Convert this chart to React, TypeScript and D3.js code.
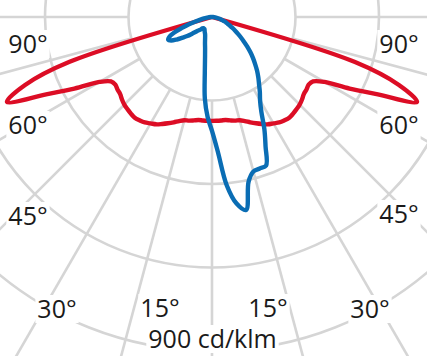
import * as d3 from 'd3';
import React, { useEffect, useRef } from 'react';

// angles measured from nadir, in degrees
const angles = [
  0, 2.5, 5, 7.5, 10, 12.5, 15, 17.5, 20, 22.5, 25, 27.5, 30, 32.5, 35, 37.5, 40, 42.5, 45,
  47.5, 50, 52.5, 55, 57.5, 60, 62.5, 65, 67.5, 70, 72.5, 75, 77.5, 80, 82.5, 85, 87.5, 90,
];

// C90 / C270 plane (symmetric), cd/klm
const redPlane = [
  280, 280, 280, 280, 283, 286, 288, 294, 302, 310, 318, 326, 331, 337, 340, 342, 340, 337, 334,
  329, 323, 321, 318, 323, 350, 418, 493, 598, 536, 404, 0, 0, 0, 0, 0, 0, 0,
];

// C0 plane (right half), cd/klm
const blueC0 = [
  307, 364, 455, 507, 528, 455, 431, 428, 426, 377, 334, 288, 259, 240, 221, 205, 189, 172, 156,
  140, 124, 108, 94, 81, 70, 59, 51, 43, 38, 30, 24, 19, 13, 8, 5, 3, 0,
];

// C180 plane (left half), cd/klm
const blueC180 = [
  307, 270, 221, 148, 108, 86, 73, 62, 54, 49, 46, 43, 40, 38, 38, 38, 40, 46, 51,
  59, 70, 84, 97, 113, 127, 133, 127, 111, 86, 65, 46, 32, 22, 13, 8, 3, 0,
];

const gridValues = [225, 450, 675, 900];
const spokeAngles = [-90, -75, -60, -45, -30, -15, 0, 15, 30, 45, 60, 75, 90];

const angleLabels = ['90°', '60°', '45°', '30°', '15°'];
const unitLabel = '900 cd/klm';

const W = 427;
const H = 356;

const App: React.FC = () => {
  const ref = useRef<SVGSVGElement | null>(null);

  useEffect(() => {
    if (!ref.current) return;
    const svg = d3.select(ref.current);
    svg.selectAll('*').remove();

    const cx = 212;
    const cy = 17;
    const r = d3.scaleLinear().domain([0, 900]).range([0, 334]);
    const toRad = (deg: number) => Math.PI - (deg * Math.PI) / 180;

    const g = svg.append('g').attr('transform', `translate(${cx},${cy})`);
    const grid = g.append('g').attr('fill', 'none').attr('stroke', '#d5d5d5').attr('stroke-width', 2.6);

    gridValues.forEach((v) => {
      grid.append('circle').attr('r', r(v));
    });

    spokeAngles.forEach((a) => {
      const t = toRad(a);
      const r0 = r(gridValues[0]);
      const r1 = 700;
      grid
        .append('line')
        .attr('x1', r0 * Math.sin(t))
        .attr('y1', -r0 * Math.cos(t))
        .attr('x2', r1 * Math.sin(t))
        .attr('y2', -r1 * Math.cos(t));
    });

    const line = d3
      .lineRadial<[number, number]>()
      .angle((d) => toRad(d[0]))
      .radius((d) => r(d[1]))
      .curve(d3.curveCatmullRom.alpha(0.5));

    const full = (left: number[], right: number[]): [number, number][] => {
      const pts: [number, number][] = [];
      for (let i = angles.length - 1; i > 0; i--) pts.push([-angles[i], left[i]]);
      angles.forEach((a, i) => pts.push([a, right[i]]));
      return pts;
    };

    g.append('path')
      .attr('d', line(full(redPlane, redPlane)) ?? '')
      .attr('fill', 'none')
      .attr('stroke', '#dc0d25')
      .attr('stroke-width', 4.4)
      .attr('stroke-linejoin', 'round');

    g.append('path')
      .attr('d', line(full(blueC180, blueC0)) ?? '')
      .attr('fill', 'none')
      .attr('stroke', '#0a6db4')
      .attr('stroke-width', 4.4)
      .attr('stroke-linejoin', 'round');

    // labels with white boxes
    const labels = svg.append('g');
    const addLabel = (text: string, x: number, y: number) => {
      const grp = labels.append('g');
      const t = grp
        .append('text')
        .attr('x', x)
        .attr('y', y)
        .attr('text-anchor', 'middle')
        .style('font-family', '"Open Sans", sans-serif')
        .style('font-size', '25px')
        .attr('fill', '#1a1a1a')
        .text(text);
      const b = (t.node() as SVGTextElement).getBBox();
      grp
        .insert('rect', 'text')
        .attr('x', b.x - 2)
        .attr('y', b.y + 4)
        .attr('width', b.width + 4)
        .attr('height', b.height - 6)
        .attr('fill', '#fff');
    };

    const leftPos: [number, number][] = [
      [28, 53],
      [28, 134],
      [28, 225],
      [57, 318],
      [160, 317],
    ];
    const rightPos: [number, number][] = [
      [399, 53],
      [399, 134],
      [399, 223],
      [370, 318],
      [268, 317],
    ];
    angleLabels.forEach((lbl, i) => {
      addLabel(lbl, leftPos[i][0], leftPos[i][1]);
      addLabel(lbl, rightPos[i][0], rightPos[i][1]);
    });
    addLabel(unitLabel, 212.5, 348);
  }, []);

  return (
    <svg
      ref={ref}
      width={W}
      height={H}
      style={{ position: 'absolute', left: 0, top: 0, display: 'block', background: '#fff' }}
    />
  );
};

export default App;
